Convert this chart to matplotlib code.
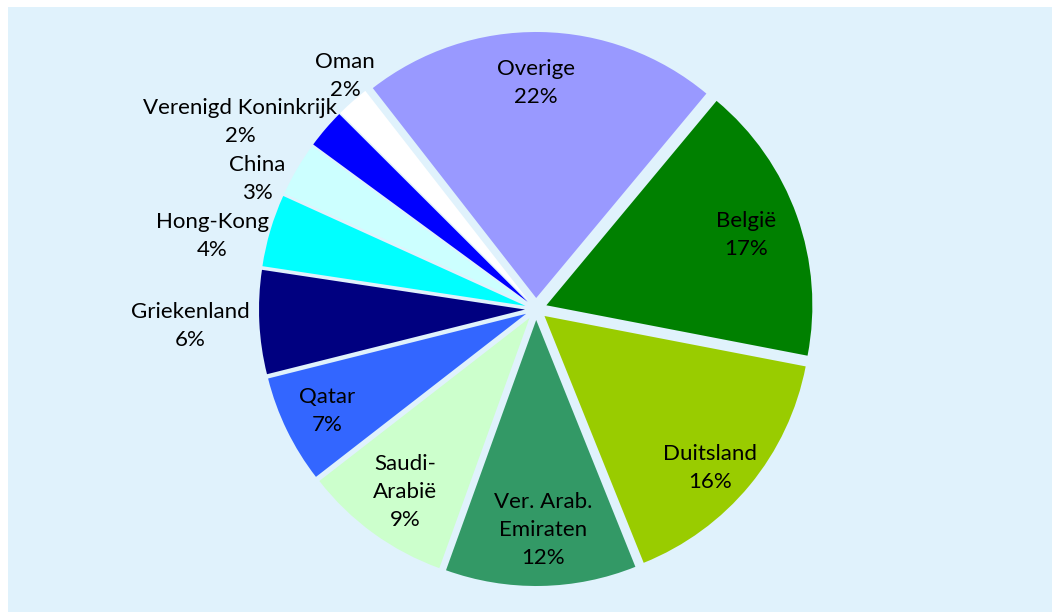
"""Pie chart: export destinations (share in %)."""
import numpy as np
import matplotlib.pyplot as plt
from matplotlib.patches import Rectangle

countries = ["Overige", "België", "Duitsland", "Ver. Arab.\nEmiraten", "Saudi-\nArabië",
             "Qatar", "Griekenland", "Hong-Kong", "China", "Verenigd Koninkrijk", "Oman"]
shares = [21.6, 17.0, 15.9, 11.6, 9.0, 6.6, 6.3, 4.4, 3.3, 2.4, 2.0]
colors = ["#9999FF", "#008000", "#99CC00", "#339966", "#CCFFCC",
          "#3366FF", "#000080", "#00FFFF", "#CCFFFF", "#0000FF", "#FFFFFF"]

# label placement: distance as fraction of radius, angle shift from slice middle (deg)
label_r = [0.86, 0.84, 0.88, 0.82, 0.84, 0.87, 1.30, 1.25, 1.16, 1.32, 1.14]
label_shift = [0.9, 0.5, -2.4, 0.8, 0.1, -0.6, -0.4, 3.4, 5.0, 8.0, -2.5]

BG = "#E0F2FC"
W, H = 1052, 612
CX, CY, R = 536, 612 - 309, 266
EXPLODE = 11  # pixels, same for every slice
TEXT_DY = -2.5  # nudge labels down a bit

fig = plt.figure(figsize=(W / 100, H / 100), dpi=100)
fig.patch.set_facecolor("white")
ax = fig.add_axes([0, 0, 1, 1])
ax.add_patch(Rectangle((8, 0), W - 8, H - 7, facecolor=BG, edgecolor="none", zorder=0))

wedges, _ = ax.pie(shares, colors=colors, startangle=127.9, counterclock=False,
                   center=(CX, CY), radius=R, explode=[EXPLODE] * len(shares),
                   wedgeprops=dict(linewidth=0), frame=True)
ax.set_xlim(0, W)
ax.set_ylim(0, H)
ax.set_aspect("equal")
ax.axis("off")

for w, name, val, lr, sh in zip(wedges, countries, shares, label_r, label_shift):
    mid = np.deg2rad((w.theta1 + w.theta2) / 2 + sh)
    x = CX + lr * R * np.cos(mid)
    y = CY + lr * R * np.sin(mid) + TEXT_DY
    ax.text(x, y, f"{name}\n{val:.0f}%", ha="center", va="center", fontsize=16,
            family="Lato", linespacing=1.5, color="black")

fig.savefig("out.png", dpi=100, facecolor="white")
